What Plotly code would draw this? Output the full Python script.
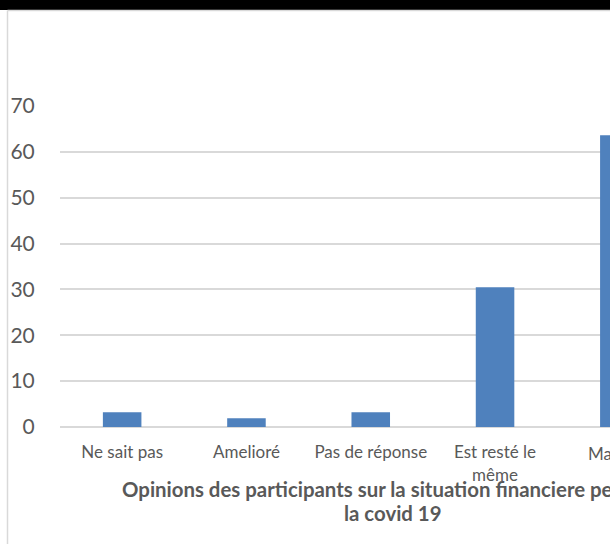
import plotly.graph_objects as go

categories = ["Ne sait pas", "Amelioré", "Pas de réponse", "Est resté le<br>même", "Mauvais"]
values = [3.2, 1.9, 3.2, 30.5, 63.6]
y_ticks = [0, 10, 20, 30, 40, 50, 60, 70]
title_line1 = "Opinions des participants sur la situation financiere pendant"
title_line2 = "la covid 19"

W, H = 610, 544
L, R, T, B = 60, 0, 106, 117
pw, ph = W - L - R, H - T - B
cat_px = 124.3
x_range = [-0.5, -0.5 + pw / cat_px]

def px_x(x):
    return (x - L) / pw

def px_y(y):
    return (H - B - y) / ph

def cat_paper(i):
    return (i - x_range[0]) / (x_range[1] - x_range[0])

text_col = "#595959"
grid_col = "#D9D9D9"
tick_size = 17

xs = list(range(len(categories)))
fig = go.Figure(go.Bar(
    x=xs, y=values,
    marker=dict(color="#4F81BD", line=dict(width=0)),
))

# categories whose centre lies inside the visible range use axis ticks;
# the cut-off last one is drawn as an annotation at its category position
vis = [i for i in xs if x_range[0] <= i <= x_range[1]]
hidden = [i for i in xs if i not in vis]

annotations = [
    dict(text="<b>" + title_line1 + "</b>", xref="paper", yref="paper",
         x=px_x(393), y=px_y(489), xanchor="center", yanchor="middle",
         showarrow=False, font=dict(size=20.4, color=text_col, family="Lato")),
    dict(text="<b>" + title_line2 + "</b>", xref="paper", yref="paper",
         x=px_x(393), y=px_y(512.5), xanchor="center", yanchor="middle",
         showarrow=False, font=dict(size=20.4, color=text_col, family="Lato")),
]
for i in hidden:
    annotations.append(dict(
        text=categories[i], xref="paper", yref="paper",
        x=cat_paper(i), y=px_y(453.5), xanchor="center", yanchor="middle",
        showarrow=False, font=dict(size=tick_size, color=text_col, family="Lato")))

fig.update_layout(
    width=W, height=H,
    margin=dict(l=L, r=R, t=T, b=B, autoexpand=False),
    paper_bgcolor="white", plot_bgcolor="white",
    font=dict(family="Lato", color=text_col),
    bargap=0.69,
    showlegend=False,
    xaxis=dict(
        range=x_range,
        tickmode="array", tickvals=vis, ticktext=[categories[i] for i in vis],
        tickfont=dict(size=tick_size, color=text_col),
        ticks="outside", ticklen=10, tickcolor="rgba(0,0,0,0)",
        ticklabeloverflow="allow",
        showgrid=False, showline=False, zeroline=False, automargin=False,
    ),
    yaxis=dict(
        range=[0, 70], tickmode="array", tickvals=y_ticks,
        tickfont=dict(size=21, color=text_col),
        ticks="outside", ticklen=20, tickcolor="rgba(0,0,0,0)",
        showgrid=True, gridcolor=grid_col, gridwidth=1.5,
        zeroline=True, zerolinecolor=grid_col, zerolinewidth=1.5,
        showline=False, automargin=False,
    ),
    shapes=[
        dict(type="rect", xref="paper", yref="paper",
             x0=px_x(0), x1=px_x(W), y0=px_y(0), y1=px_y(10),
             fillcolor="black", line=dict(width=0), layer="above"),
        dict(type="line", xref="paper", yref="paper",
             x0=px_x(7.5), x1=px_x(W), y0=px_y(10.5), y1=px_y(10.5),
             line=dict(color=grid_col, width=1.5)),
        dict(type="line", xref="paper", yref="paper",
             x0=px_x(7.5), x1=px_x(7.5), y0=px_y(10.5), y1=px_y(H),
             line=dict(color=grid_col, width=1.5)),
    ],
    annotations=annotations,
)

fig.write_html("out.html")
